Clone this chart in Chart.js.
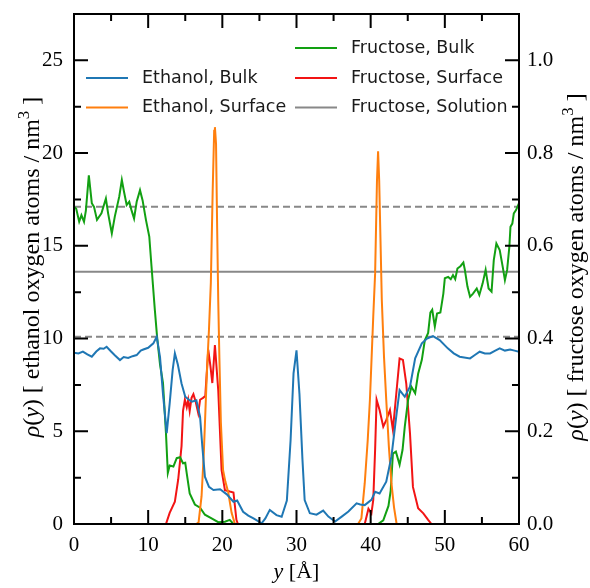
<!DOCTYPE html>
<html>
<head>
<meta charset="utf-8">
<script src="https://cdn.jsdelivr.net/npm/chart.js@4.4.0/dist/chart.umd.min.js"></script>
<style>
    html, body { margin: 0; padding: 0; background: #fff; }
</style>
</head>
<body>
<canvas id="graficoDensidade" width="590" height="588"></canvas>
<script>
// eixo y em Å, densidades lidas do grafico original
// etanol -> eixo esquerdo, frutose -> eixo direito
const etanolBulk = [
    [0, 9.24], [0.6, 9.2], [1.2, 9.3], [1.8, 9.15], [2.4, 9.02], [3.0, 9.3], [3.5, 9.47], [4.0, 9.45],
    [4.4, 9.56], [5.0, 9.3], [5.5, 9.1], [6.2, 8.84], [6.7, 9.0], [7.3, 8.95], [7.9, 9.05], [8.45, 9.11],
    [9.0, 9.35], [9.35, 9.41], [10.0, 9.5], [10.7, 9.74], [11.15, 10.1], [11.6, 9.0], [12.0, 7.0], [12.5, 4.9],
    [12.9, 6.5], [13.3, 8.3], [13.6, 9.2], [14.0, 8.6], [14.5, 7.58], [15.0, 6.86], [15.5, 6.7], [15.9, 6.6],
    [16.5, 6.67], [17.0, 5.78], [17.3, 4.2], [17.65, 2.55], [18.2, 2.0], [18.8, 1.83], [19.7, 1.87], [20.6, 1.6],
    [21.5, 1.2], [22.0, 1.27], [22.8, 0.66], [23.5, 0.45], [24.2, 0.3], [25.3, 0.04], [25.8, 0.3], [26.4, 0.76],
    [27.3, 0.48], [28.0, 0.39], [28.7, 1.27], [29.2, 4.5], [29.6, 8.12], [30.0, 9.36], [30.4, 7.0], [30.8, 3.5],
    [31.1, 1.29], [31.8, 0.58], [32.7, 0.5], [33.6, 0.72], [34.3, 0.4], [35.2, 0.13], [36.1, 0.4], [37.0, 0.67],
    [38.1, 1.11], [38.6, 1.05], [39.2, 1.02], [40.1, 1.3], [40.6, 1.74], [41.2, 1.65], [42.1, 2.28], [42.8, 3.63],
    [43.5, 5.97], [43.9, 7.22], [44.6, 6.86], [45.3, 7.4], [46.0, 8.93], [46.9, 9.74], [47.6, 10.0], [48.4, 10.13],
    [49.3, 9.92], [50.4, 9.47], [51.2, 9.2], [52.0, 9.02], [53.4, 8.93], [54.0, 9.1], [54.7, 9.29], [55.4, 9.2],
    [56.1, 9.2], [56.8, 9.35], [57.4, 9.47], [58.1, 9.35], [58.8, 9.41], [59.4, 9.35], [60.0, 9.29]
];

const etanolSuperficie = [
    [0, 0], [16.5, 0], [16.8, 0.1], [17.2, 1.5], [17.5, 3.8], [17.9, 8], [18.2, 10.5], [18.45, 13],
    [18.7, 18], [18.9, 21.2], [19.0, 21.4], [19.15, 20.5], [19.3, 16], [19.45, 12], [19.6, 9], [19.8, 5.5],
    [20.1, 2.9], [20.4, 2.3], [20.8, 1.7], [21.25, 0.6], [21.7, 0], [38.3, 0], [38.75, 0.3], [39.2, 2.2],
    [39.6, 4.5], [39.9, 6.7], [40.35, 11.2], [40.6, 13.5], [40.85, 18.5], [41.0, 20.1], [41.15, 18.5], [41.5, 12.1],
    [41.8, 9], [42.1, 6.7], [42.45, 4.2], [42.8, 2.2], [43.15, 0.9], [43.5, 0], [60, 0]
];

const frutoseBulk = [
    [0, 0.684], [0.3, 0.68], [0.7, 0.652], [1.0, 0.666], [1.35, 0.652], [1.6, 0.676], [2.0, 0.752], [2.4, 0.692],
    [2.7, 0.684], [3.1, 0.656], [3.7, 0.67], [4.3, 0.702], [4.6, 0.67], [5.1, 0.627], [5.5, 0.663], [6.1, 0.706],
    [6.45, 0.742], [6.75, 0.716], [7.1, 0.688], [7.45, 0.695], [7.75, 0.677], [8.1, 0.659], [8.45, 0.695], [8.9, 0.72],
    [9.25, 0.698], [9.7, 0.656], [10.15, 0.62], [10.45, 0.556], [10.9, 0.462], [11.2, 0.404], [11.6, 0.344], [12.0, 0.304],
    [12.4, 0.196], [12.65, 0.11], [12.9, 0.126], [13.4, 0.124], [13.85, 0.142], [14.3, 0.144], [14.7, 0.131], [15.0, 0.132],
    [15.2, 0.109], [15.6, 0.066], [16.3, 0.042], [17.0, 0.035], [17.65, 0.02], [18.55, 0.012], [19.45, 0.004], [20.35, 0.005],
    [21.0, 0.009], [21.5, 0], [41.0, 0], [41.7, 0.008], [42.4, 0.039], [42.7, 0.072], [43.0, 0.152], [43.4, 0.156],
    [43.9, 0.128], [44.3, 0.16], [44.6, 0.21], [45.05, 0.268], [45.5, 0.296], [46.0, 0.282], [46.4, 0.324], [46.9, 0.354],
    [47.3, 0.396], [47.75, 0.412], [48.05, 0.456], [48.3, 0.462], [48.65, 0.426], [48.95, 0.454], [49.4, 0.456], [49.8, 0.497],
    [50.0, 0.53], [50.45, 0.533], [50.8, 0.528], [51.1, 0.537], [51.4, 0.528], [51.7, 0.551], [52.1, 0.556], [52.5, 0.564],
    [52.7, 0.548], [53.05, 0.512], [53.4, 0.49], [53.8, 0.497], [54.3, 0.508], [54.65, 0.494], [55.1, 0.519], [55.5, 0.548],
    [55.9, 0.508], [56.3, 0.501], [56.6, 0.569], [56.95, 0.605], [57.4, 0.591], [57.8, 0.555], [58.1, 0.526], [58.4, 0.548],
    [58.7, 0.598], [58.85, 0.641], [59.1, 0.648], [59.3, 0.67], [59.6, 0.677], [60.0, 0.692]
];

const frutoseSuperficie = [
    [0, 0], [12.4, 0], [12.9, 0.024], [13.6, 0.048], [14.05, 0.096], [14.5, 0.168], [14.7, 0.244], [14.95, 0.268],
    [15.2, 0.252], [15.4, 0.268], [15.6, 0.244], [15.85, 0.272], [16.1, 0.28], [16.4, 0.264], [16.75, 0.239], [17.0, 0.268],
    [17.4, 0.272], [17.7, 0.276], [18.1, 0.376], [18.4, 0.34], [18.65, 0.304], [19.0, 0.386], [19.45, 0.288], [19.9, 0.116],
    [20.35, 0.073], [21.0, 0.07], [21.5, 0.068], [21.9, 0.009], [22.1, 0], [39.2, 0], [39.7, 0.033], [40.1, 0.023],
    [40.35, 0.052], [40.6, 0.16], [40.8, 0.268], [41.2, 0.246], [41.7, 0.21], [42.1, 0.224], [42.6, 0.246], [43.0, 0.203],
    [43.5, 0.289], [43.9, 0.357], [44.35, 0.354], [44.8, 0.303], [45.3, 0.196], [45.7, 0.08], [46.4, 0.034], [47.1, 0.023],
    [47.75, 0.009], [48.2, 0], [60, 0]
];

// media da solucao e as linhas tracejadas (+/-)
const frutoseSolucao = 0.544;
const frutoseTracejadas = [0.684, 0.404];
const limitesX = [0, 60];

const ticksX = [0, 10, 20, 30, 40, 50, 60];
const ticksXMenores = [5, 15, 25, 35, 45, 55];
const ticksEtanol = [0, 5, 10, 15, 20, 25];
const ticksEtanolMenores = [2.5, 7.5, 12.5, 17.5, 22.5];
const ticksFrutose = [0.0, 0.2, 0.4, 0.6, 0.8, 1.0];
const ticksFrutoseMenores = [0.1, 0.3, 0.5, 0.7, 0.9];

const CORES = {
    etanolBulk: '#1f77b4',
    etanolSuperficie: '#ff7f0e',
    frutoseBulk: '#12a012',
    frutoseSuperficie: '#f21414',
    solucao: '#888888'
};

const SERIF = '"Liberation Serif", "Times New Roman", serif';
const SANS = '"DejaVu Sans", sans-serif';

const legenda = [
    { texto: 'Ethanol, Bulk', cor: CORES.etanolBulk, x: 86, y: 78 },
    { texto: 'Ethanol, Surface', cor: CORES.etanolSuperficie, x: 86, y: 107.5 },
    { texto: 'Fructose, Bulk', cor: CORES.frutoseBulk, x: 295, y: 48 },
    { texto: 'Fructose, Surface', cor: CORES.frutoseSuperficie, x: 295, y: 78 },
    { texto: 'Fructose, Solution', cor: CORES.solucao, x: 295, y: 107.5 }
];

function pontos(lista) {
    return lista.map(p => ({ x: p[0], y: p[1] }));
}

function linhaHorizontal(valor) {
    return limitesX.map(x => ({ x: x, y: valor }));
}

function serie(label, dados, cor, eixo) {
    return {
        label: label,
        data: pontos(dados),
        borderColor: cor,
        borderWidth: 2,
        pointRadius: 0,
        fill: false,
        tension: 0,
        yAxisID: eixo
    };
}

// texto em partes: [texto, estilo] -> 'n' normal, 'i' italico, 's' sobrescrito
function desenharTexto(ctx, partes, tamanho) {
    const fonte = (p) => {
        if (p[1] === 'i') return `italic ${tamanho}px ${SERIF}`;
        if (p[1] === 's') return `${Math.round(tamanho * 0.7)}px ${SERIF}`;
        return `${tamanho}px ${SERIF}`;
    };
    let largura = 0;
    partes.forEach(p => {
        ctx.font = fonte(p);
        largura += ctx.measureText(p[0]).width;
    });
    let x = -largura / 2;
    partes.forEach(p => {
        ctx.font = fonte(p);
        ctx.fillText(p[0], x, p[1] === 's' ? -tamanho * 0.4 : 0);
        x += ctx.measureText(p[0]).width;
    });
}

function tituloVertical(ctx, partes, x, y) {
    ctx.save();
    ctx.translate(x, y);
    ctx.rotate(-Math.PI / 2);
    desenharTexto(ctx, partes, 24);
    ctx.restore();
}

// sem folga extra das escalas: area do grafico fica exatamente onde deve
function semFolgaVertical(s, largura) {
    s.width = largura;
    s.paddingTop = 0;
    s.paddingBottom = 0;
}

const molduraPlugin = {
    id: 'moldura',
    afterDraw(chart) {
        const ctx = chart.ctx;
        const { left, right, top, bottom } = chart.chartArea;
        const sx = chart.scales.x;
        const sy = chart.scales.y;
        const sy1 = chart.scales.y1;

        ctx.save();
        ctx.strokeStyle = '#000';
        ctx.lineWidth = 2;
        ctx.beginPath();
        const marcaX = (vals, tam) => vals.forEach(v => {
            const px = sx.getPixelForValue(v);
            ctx.moveTo(px, bottom); ctx.lineTo(px, bottom - tam);
            ctx.moveTo(px, top); ctx.lineTo(px, top + tam);
        });
        const marcaY = (escala, vals, tam, lado) => vals.forEach(v => {
            const py = escala.getPixelForValue(v);
            if (lado === 'esq') { ctx.moveTo(left, py); ctx.lineTo(left + tam, py); }
            else { ctx.moveTo(right, py); ctx.lineTo(right - tam, py); }
        });
        marcaX(ticksX, 14);
        marcaX(ticksXMenores, 7);
        marcaY(sy, ticksEtanol, 14, 'esq');
        marcaY(sy, ticksEtanolMenores, 7, 'esq');
        marcaY(sy1, ticksFrutose, 14, 'dir');
        marcaY(sy1, ticksFrutoseMenores, 7, 'dir');
        ctx.stroke();
        ctx.strokeRect(left, top, right - left, bottom - top);

        // legenda
        ctx.lineWidth = 2;
        ctx.font = `17.5px ${SANS}`;
        ctx.textBaseline = 'middle';
        ctx.textAlign = 'left';
        legenda.forEach(item => {
            ctx.strokeStyle = item.cor;
            ctx.beginPath();
            ctx.moveTo(item.x, item.y);
            ctx.lineTo(item.x + 42, item.y);
            ctx.stroke();
            ctx.fillStyle = '#1a1a1a';
            ctx.fillText(item.texto, item.x + 56, item.y);
        });

        // titulos dos eixos
        ctx.fillStyle = '#000';
        ctx.textBaseline = 'alphabetic';
        const meio = (top + bottom) / 2;
        tituloVertical(ctx, [['ρ', 'i'], ['(', 'n'], ['y', 'i'], [')', 'n'],
            [' [ ethanol oxygen atoms / nm', 'n'], ['3', 's'], [' ]', 'n']], 39, meio - 2);
        tituloVertical(ctx, [['ρ', 'i'], ['(', 'n'], ['y', 'i'], [')', 'n'],
            [' [ fructose oxygen atoms / nm', 'n'], ['3', 's'], [' ]', 'n']], 583, meio - 2);
        ctx.save();
        ctx.translate((left + right) / 2, 578);
        desenharTexto(ctx, [['y', 'i'], [' [Å]', 'n']], 22);
        ctx.restore();
        ctx.restore();
    }
};

const ctx = document.getElementById('graficoDensidade').getContext('2d');

new Chart(ctx, {
    type: 'line',
    data: {
        datasets: [
            serie('Ethanol, Bulk', etanolBulk, CORES.etanolBulk, 'y'),
            serie('Ethanol, Surface', etanolSuperficie, CORES.etanolSuperficie, 'y'),
            serie('Fructose, Bulk', frutoseBulk, CORES.frutoseBulk, 'y1'),
            serie('Fructose, Surface', frutoseSuperficie, CORES.frutoseSuperficie, 'y1'),
            {
                label: 'Fructose, Solution',
                data: linhaHorizontal(frutoseSolucao),
                borderColor: CORES.solucao,
                borderWidth: 2,
                pointRadius: 0,
                yAxisID: 'y1'
            },
            ...frutoseTracejadas.map(v => ({
                label: 'desvio',
                data: linhaHorizontal(v),
                borderColor: CORES.solucao,
                borderWidth: 2,
                borderDash: [7, 4],
                pointRadius: 0,
                yAxisID: 'y1'
            }))
        ]
    },
    options: {
        responsive: false,
        animation: false,
        layout: { padding: { top: 14, left: 0, right: 0, bottom: 0 } },
        plugins: {
            legend: { display: false },
            tooltip: { enabled: false }
        },
        scales: {
            x: {
                type: 'linear',
                min: 0,
                max: 60,
                grid: { display: false, drawTicks: false },
                border: { display: false },
                afterBuildTicks: s => { s.ticks = ticksX.map(v => ({ value: v })); },
                afterFit: s => { s.height = 64; s.paddingLeft = 0; s.paddingRight = 0; },
                ticks: {
                    padding: 9,
                    color: '#000',
                    maxRotation: 0,
                    font: { family: SERIF, size: 21 },
                    callback: v => String(v)
                }
            },
            y: {
                type: 'linear',
                position: 'left',
                min: 0,
                max: 27.5,
                grid: { display: false, drawTicks: false },
                border: { display: false },
                afterBuildTicks: s => { s.ticks = ticksEtanol.map(v => ({ value: v })); },
                afterFit: s => semFolgaVertical(s, 74),
                ticks: {
                    padding: 11,
                    color: '#000',
                    font: { family: SERIF, size: 21 },
                    callback: v => String(v)
                }
            },
            y1: {
                type: 'linear',
                position: 'right',
                min: 0,
                max: 1.1,
                grid: { display: false, drawTicks: false },
                border: { display: false },
                afterBuildTicks: s => { s.ticks = ticksFrutose.map(v => ({ value: v })); },
                afterFit: s => semFolgaVertical(s, 71),
                ticks: {
                    padding: 8,
                    color: '#000',
                    font: { family: SERIF, size: 21 },
                    callback: v => v.toFixed(1)
                }
            }
        }
    },
    plugins: [molduraPlugin]
});
</script>
</body>
</html>
